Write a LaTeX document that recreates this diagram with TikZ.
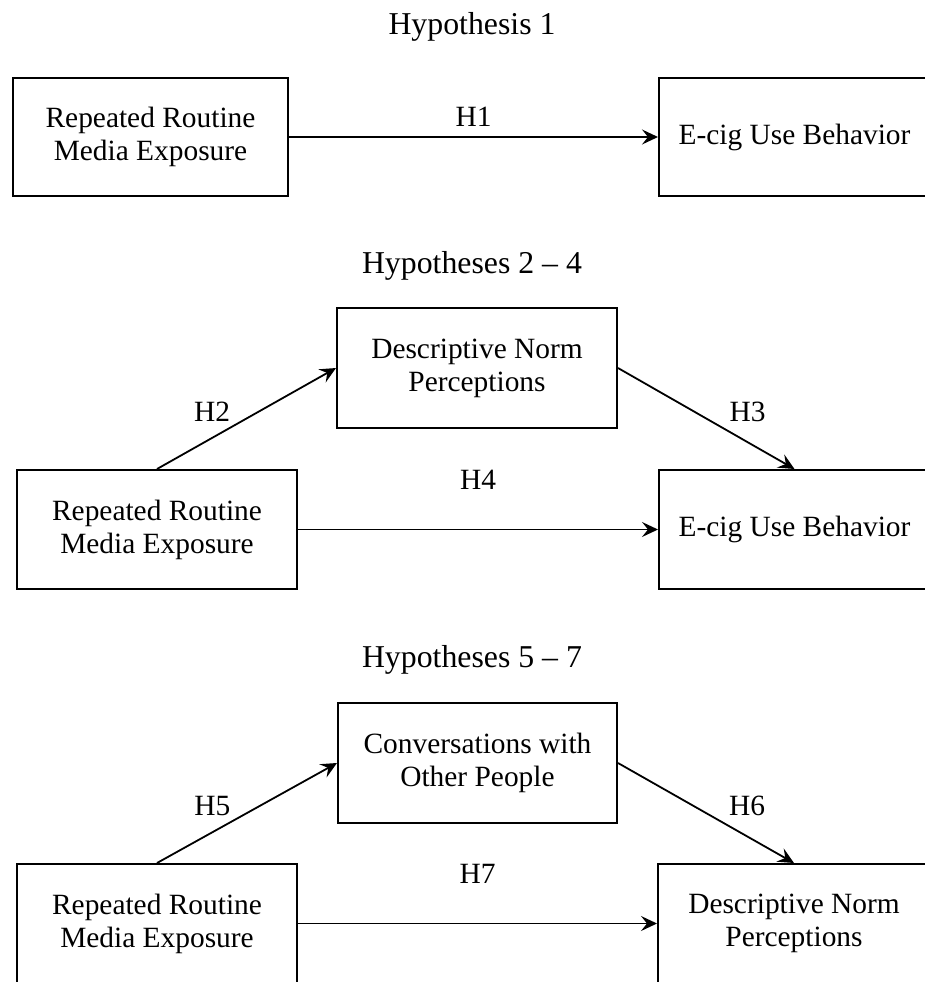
\documentclass[tikz,border=0pt]{standalone}
\usepackage{fontspec}
\setmainfont{Liberation Serif}
\usetikzlibrary{arrows.meta}
\tikzstyle{rect} = [draw, rectangle, line width=1pt, align=center, inner sep=0pt]
\tikzstyle{title} = [font=\fontsize{15.9}{18}\selectfont]
\tikzstyle{line} = [draw, line width=0.9pt, -{Stealth[length=8pt, width=7.5pt, inset=3pt]}]

\begin{document}
\begin{tikzpicture}[x=0.5pt, y=-0.5pt, font=\fontsize{14.7}{16.5}\selectfont]
	\useasboundingbox (0,0) rectangle (925,982);
	\clip (0,0) rectangle (925,982);

	% Hypothesis 1
	\node [title] (title1) at (472,27) {Hypothesis 1};
	\node [rect, minimum width=137.5pt, minimum height=59pt] (media1) at (150.5,137) {Repeated Routine\\Media Exposure};
	\node [rect, minimum width=135.5pt, minimum height=59pt] (ecig1) at (794.5,137) {E-cig Use Behavior};
	\path [line] (media1) -- node [yshift=10pt] {H1} (ecig1);

	% Hypotheses 2 - 4
	\node [title] (title2) at (472,266) {Hypotheses 2 – 4};
	\node [rect, minimum width=140pt, minimum height=60pt] (norm2) at (477,368) {Descriptive Norm\\Perceptions};
	\node [rect, minimum width=140pt, minimum height=59.5pt] (media2) at (157,529.5) {Repeated Routine\\Media Exposure};
	\node [rect, minimum width=135.5pt, minimum height=59.5pt] (ecig2) at (794.5,529.5) {E-cig Use Behavior};
	\path [line] (media2.north) -- node [pos=0.37, xshift=-5.6pt, yshift=10pt] {H2} (norm2.west);
	\path [line] (norm2.east) -- node [pos=0.66, xshift=6.5pt, yshift=11.4pt] {H3} (ecig2.north);
	\path [line] (media2) -- node [yshift=25pt] {H4} (ecig2);

	% Hypotheses 5 - 7
	\node [title] (title3) at (472,660) {Hypotheses 5 – 7};
	\node [rect, minimum width=139.5pt, minimum height=60pt] (talk3) at (477.5,763) {Conversations with\\Other People};
	\node [rect, minimum width=140pt, minimum height=59.5pt] (media3) at (157,923.5) {Repeated Routine\\Media Exposure};
	\node [rect, minimum width=136pt, minimum height=59.5pt] (norm3) at (794,923.5) {Descriptive Norm\\Perceptions};
	\path [line] (media3.north) -- node [pos=0.37, xshift=-5.6pt, yshift=10pt] {H5} (talk3.west);
	\path [line] (talk3.east) -- node [pos=0.66, xshift=6.5pt, yshift=11.4pt] {H6} (norm3.north);
	\path [line] (media3) -- node [yshift=25pt] {H7} (norm3);
\end{tikzpicture}
\end{document}
